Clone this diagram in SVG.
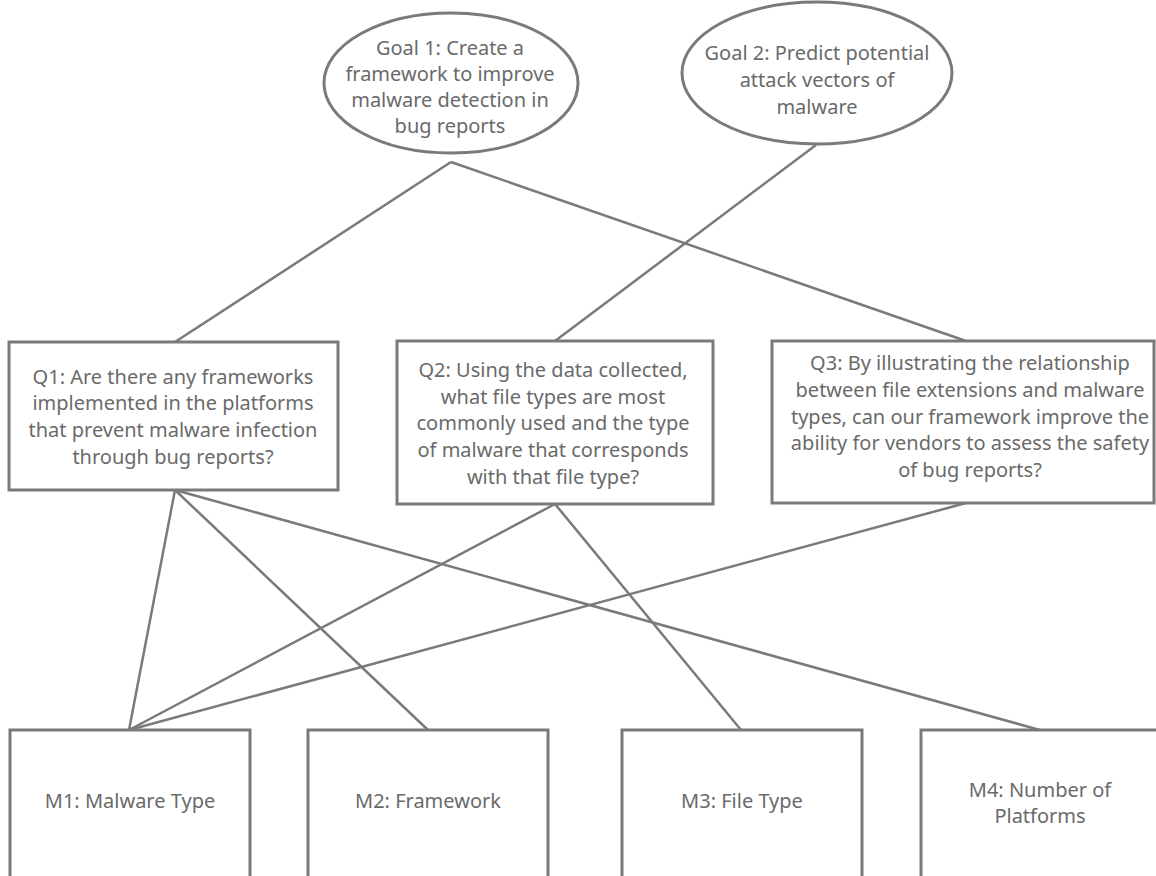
<svg xmlns="http://www.w3.org/2000/svg" width="1156" height="876" viewBox="0 0 1156 876">
<style>
.n{fill:#fff;stroke:#7a7a7a;stroke-width:3}
.t{font-family:"Noto Sans","Open Sans",sans-serif;font-size:20px;fill:#6a6a6a;text-anchor:middle}
.c line{stroke:#7a7a7a;stroke-width:2.5}
</style>
<rect width="1156" height="876" fill="#fff"/>
<g class="c" id="connectors">
<line x1="451" y1="162" x2="175" y2="342"/>
<line x1="451" y1="162" x2="966" y2="341"/>
<line x1="816" y1="145" x2="555" y2="341"/>
<line x1="175" y1="490" x2="129" y2="730"/>
<line x1="175" y1="490" x2="428" y2="730"/>
<line x1="175" y1="490" x2="1040" y2="730"/>
<line x1="555" y1="504" x2="129" y2="730"/>
<line x1="555" y1="504" x2="741" y2="730"/>
<line x1="966" y1="503" x2="129" y2="730"/>
</g>
<g id="goal1">
<ellipse class="n" cx="451" cy="83" rx="127" ry="70"/>
<text class="t"><tspan x="450" y="55">Goal 1: Create a</tspan><tspan x="450" y="81">framework to improve</tspan><tspan x="450" y="107">malware detection in</tspan><tspan x="450" y="133">bug reports</tspan></text>
</g>
<g id="goal2">
<ellipse class="n" cx="817" cy="73" rx="135" ry="71"/>
<text class="t"><tspan x="817" y="60">Goal 2: Predict potential</tspan><tspan x="817" y="87">attack vectors of</tspan><tspan x="817" y="114">malware</tspan></text>
</g>
<g id="q1">
<rect class="n" x="9" y="342" width="329" height="148"/>
<text class="t"><tspan x="173" y="384">Q1: Are there any frameworks</tspan><tspan x="173" y="410">implemented in the platforms</tspan><tspan x="173" y="437">that prevent malware infection</tspan><tspan x="173" y="464">through bug reports?</tspan></text>
</g>
<g id="q2">
<rect class="n" x="397" y="341" width="316" height="163"/>
<text class="t"><tspan x="553" y="377">Q2: Using the data collected,</tspan><tspan x="553" y="404">what file types are most</tspan><tspan x="553" y="430">commonly used and the type</tspan><tspan x="553" y="457">of malware that corresponds</tspan><tspan x="553" y="484">with that file type?</tspan></text>
</g>
<g id="q3">
<rect class="n" x="772" y="341" width="382" height="162"/>
<text class="t"><tspan x="970" y="370">Q3: By illustrating the relationship</tspan><tspan x="970" y="397">between file extensions and malware</tspan><tspan x="970" y="424">types, can our framework improve the</tspan><tspan x="970" y="450">ability for vendors to assess the safety</tspan><tspan x="970" y="477">of bug reports?</tspan></text>
</g>
<g id="m1">
<rect class="n" x="10" y="730" width="240" height="160"/>
<text class="t" x="130" y="808">M1: Malware Type</text>
</g>
<g id="m2">
<rect class="n" x="308" y="730" width="240" height="160"/>
<text class="t" x="428" y="808">M2: Framework</text>
</g>
<g id="m3">
<rect class="n" x="622" y="730" width="240" height="160"/>
<text class="t" x="742" y="808">M3: File Type</text>
</g>
<g id="m4">
<rect class="n" x="921" y="730" width="240" height="160"/>
<text class="t"><tspan x="1040" y="797">M4: Number of</tspan><tspan x="1040" y="823">Platforms</tspan></text>
</g>
</svg>
